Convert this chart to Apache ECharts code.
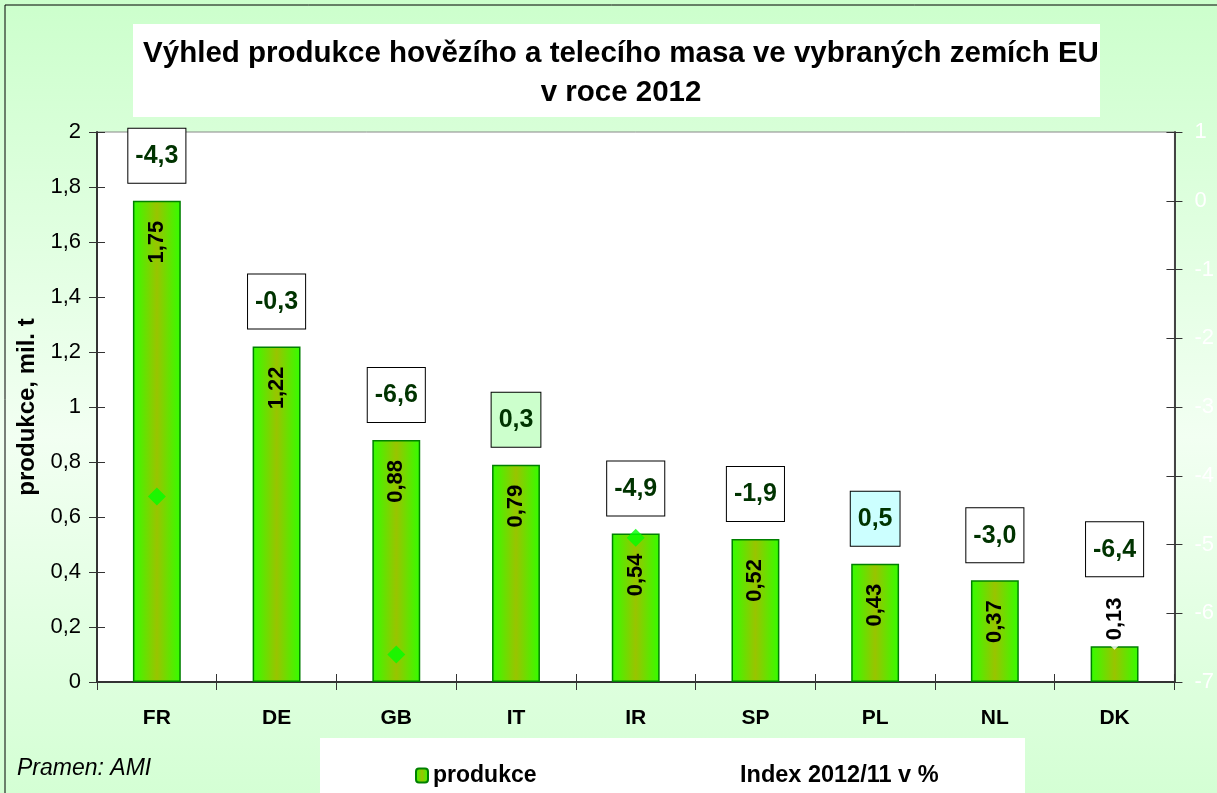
<!DOCTYPE html>
<html>
<head>
<meta charset="utf-8">
<script src="https://cdn.jsdelivr.net/npm/echarts@6/dist/echarts.min.js"></script>
<style>
  html, body { margin: 0; padding: 0; }
  #chart { width: 1217px; height: 793px; }
</style>
</head>
<body>
<div id="chart"></div>
<script>
// data
const countries = ['FR', 'DE', 'GB', 'IT', 'IR', 'SP', 'PL', 'NL', 'DK'];
const produkce = [1.75, 1.22, 0.88, 0.79, 0.54, 0.52, 0.43, 0.37, 0.13];
const indexPct = [-4.3, -0.3, -6.6, 0.3, -4.9, -1.9, 0.5, -3.0, -6.4];
const leftTicks = [0, 0.2, 0.4, 0.6, 0.8, 1, 1.2, 1.4, 1.6, 1.8, 2];
const rightTicks = [-7, -6, -5, -4, -3, -2, -1, 0, 1];

// only a few markers stand out, the rest are white on white
const markerColor = ['#00ff00', '#ffffff', '#00ff00', '#ffffff', '#00ff00', '#ffffff', '#ffffff', '#ffffff', '#ffffff'];
const boxColor = ['#fff', '#fff', '#fff', '#ccffcc', '#fff', '#fff', '#ccffff', '#fff', '#fff'];

const FONT = 'Liberation Sans, Arial, sans-serif';
const comma = (v, d) => v.toFixed(d).replace('.', ',');

const chart = echarts.init(document.getElementById('chart'));

const barGradient = new echarts.graphic.LinearGradient(0, 0, 1, 0, [
  { offset: 0, color: '#33ff00' },
  { offset: 0.5, color: '#99c400' },
  { offset: 1, color: '#33ff00' }
]);

// value labels: inside the top of the bar, except the small DK bar
const valueData = produkce.map(v => {
  if (v < 0.2) {
    return { value: v, label: { position: 'top', align: 'left', distance: 6 } };
  }
  return v;
});

// index boxes sit above the bars
const boxData = produkce.map((v, i) => ({
  value: v,
  label: {
    backgroundColor: boxColor[i],
    distance: v < 0.2 ? 70 : 18
  }
}));

const axisFont = { fontFamily: FONT, color: '#000' };

chart.setOption({
  animation: false,
  backgroundColor: new echarts.graphic.LinearGradient(0, 0, 0, 1, [
    { offset: 0, color: '#ccffcc' },
    { offset: 0.55, color: '#f2fff2' },
    { offset: 1, color: '#d4ffd4' }
  ]),
  graphic: [
    { type: 'rect', shape: { x: 5, y: 5, width: 1400, height: 900 }, style: { fill: 'none', stroke: '#000', lineWidth: 1 }, silent: true },
    { type: 'rect', shape: { x: 133, y: 24, width: 967, height: 93 }, style: { fill: '#fff' }, silent: true },
    { type: 'rect', shape: { x: 320, y: 738, width: 705, height: 60 }, style: { fill: '#fff' }, silent: true },
    { type: 'text', left: 17, top: 757, style: { text: 'Pramen: AMI', font: 'italic 23px ' + FONT, fill: '#000' }, silent: true }
  ],
  title: {
    text: 'Výhled produkce hovězího a telecího masa ve vybraných zemích EU\nv roce 2012',
    left: 616,
    top: 29,
    textAlign: 'center',
    textStyle: { fontFamily: FONT, fontSize: 29.5, fontWeight: 'bold', color: '#000', lineHeight: 39 }
  },
  legend: [
    {
      data: ['produkce'],
      left: 410,
      top: 759,
      itemWidth: 12,
      itemHeight: 14,
      itemGap: 6,
      textStyle: { fontFamily: FONT, fontSize: 23, fontWeight: 'bold', color: '#000' }
    },
    {
      data: [{ name: 'Index 2012/11 v %', itemStyle: { opacity: 0 } }],
      left: 718,
      top: 759,
      itemWidth: 12,
      itemHeight: 14,
      textStyle: { fontFamily: FONT, fontSize: 23.5, fontWeight: 'bold', color: '#000' }
    }
  ],
  grid: {
    left: 97, right: 40, top: 132, bottom: 111,
    show: true, backgroundColor: '#fff', borderColor: '#888', borderWidth: 1
  },
  xAxis: [
    {
      type: 'category',
      data: countries,
      axisLine: { onZero: false, lineStyle: { color: '#333', width: 2 } },
      axisTick: { show: true, length: 8, lineStyle: { color: '#333' } },
      axisLabel: Object.assign({ fontSize: 21, fontWeight: 'bold', margin: 26 }, axisFont)
    },
    {
      // second copy only for the inner half of the crossing ticks
      type: 'category',
      data: countries,
      position: 'bottom',
      axisLine: { show: false, onZero: false },
      axisTick: { show: true, inside: true, length: 8, lineStyle: { color: '#333' } },
      axisLabel: { show: false }
    }
  ],
  yAxis: [
    {
      type: 'value',
      min: leftTicks[0],
      max: leftTicks[leftTicks.length - 1],
      interval: 0.2,
      name: 'produkce, mil. t',
      nameLocation: 'middle',
      nameGap: 56,
      nameRotate: 90,
      nameTextStyle: { fontFamily: FONT, fontSize: 24, fontWeight: 'bold', color: '#000' },
      splitLine: { show: false },
      axisLine: { show: true, lineStyle: { color: '#333', width: 2 } },
      axisTick: { show: true, length: 8, lineStyle: { color: '#333' } },
      axisLabel: Object.assign({
        fontSize: 22, margin: 16,
        formatter: v => String(+v.toFixed(1)).replace('.', ',')
      }, axisFont)
    },
    {
      type: 'value',
      position: 'right',
      min: rightTicks[0],
      max: rightTicks[rightTicks.length - 1],
      interval: 1,
      splitLine: { show: false },
      axisLine: { show: true, lineStyle: { color: '#444', width: 2 } },
      axisTick: { show: true, inside: true, length: 8, lineStyle: { color: '#333' } },
      axisLabel: { fontFamily: FONT, fontSize: 22, color: '#fff', margin: 20 }
    },
    {
      type: 'value',
      position: 'left',
      min: leftTicks[0],
      max: leftTicks[leftTicks.length - 1],
      interval: 0.2,
      splitLine: { show: false },
      axisLine: { show: false },
      axisTick: { show: true, inside: true, length: 8, lineStyle: { color: '#333' } },
      axisLabel: { show: false }
    },
    {
      type: 'value',
      position: 'right',
      min: rightTicks[0],
      max: rightTicks[rightTicks.length - 1],
      interval: 1,
      splitLine: { show: false },
      axisLine: { show: false },
      axisTick: { show: true, length: 8, lineStyle: { color: '#333' } },
      axisLabel: { show: false }
    }
  ],
  series: [
    {
      name: 'produkce',
      type: 'bar',
      data: produkce,
      barWidth: '40%',
      z: 2,
      itemStyle: { color: barGradient, borderColor: '#008000', borderWidth: 1.5 }
    },
    {
      name: 'Index 2012/11 v %',
      type: 'scatter',
      yAxisIndex: 1,
      data: indexPct,
      symbol: 'diamond',
      symbolSize: 18,
      z: 3,
      itemStyle: { color: p => markerColor[p.dataIndex] }
    },
    {
      // transparent copy of the bars carrying the value labels
      name: 'valueLabels',
      type: 'bar',
      data: valueData,
      barWidth: '40%',
      barGap: '-100%',
      silent: true,
      z: 5,
      itemStyle: { color: 'rgba(0,0,0,0)' },
      label: {
        show: true,
        position: 'insideTop',
        rotate: 90,
        align: 'right',
        verticalAlign: 'middle',
        distance: 20,
        fontFamily: FONT,
        fontSize: 22,
        fontWeight: 'bold',
        color: '#000',
        formatter: p => comma(p.value, 2)
      }
    },
    {
      // transparent copy of the bars carrying the index boxes
      name: 'indexBoxes',
      type: 'bar',
      data: boxData,
      barWidth: '40%',
      barGap: '-100%',
      silent: true,
      z: 5,
      itemStyle: { color: 'rgba(0,0,0,0)' },
      label: {
        show: true,
        position: 'top',
        fontFamily: FONT,
        fontSize: 25,
        fontWeight: 'bold',
        color: '#003300',
        borderColor: '#000',
        borderWidth: 1,
        padding: [15, 7, 14, 7],
        formatter: p => comma(indexPct[p.dataIndex], 1)
      }
    }
  ]
});
</script>
</body>
</html>
